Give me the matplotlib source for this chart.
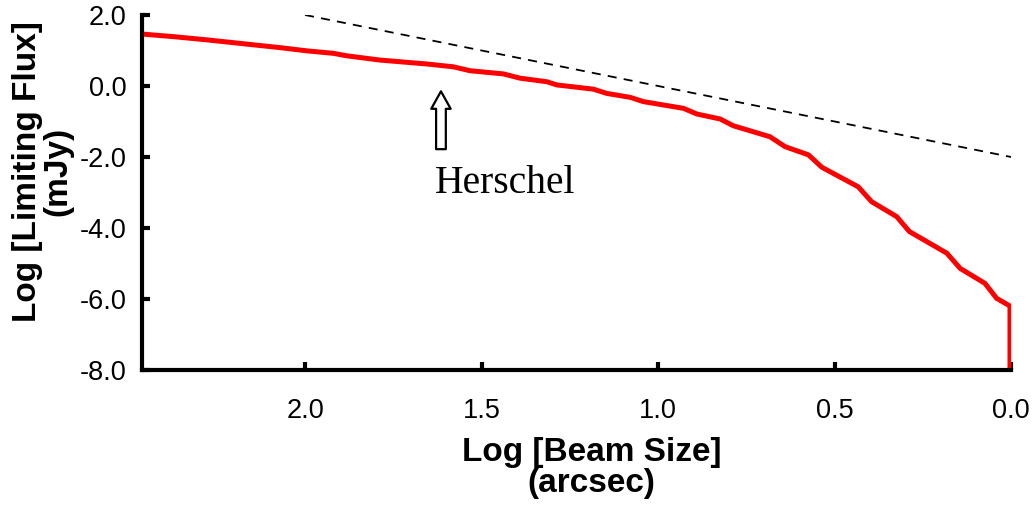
import matplotlib.pyplot as plt

# 红色曲线: log beam size vs log limiting flux
beam = [2.458, 2.373, 2.279, 2.184, 2.137, 2.071, 1.995, 1.920, 1.882, 1.788,
        1.655, 1.580, 1.533, 1.438, 1.391, 1.315, 1.287, 1.183, 1.145, 1.079,
        1.042, 0.928, 0.890, 0.824, 0.787, 0.683, 0.640, 0.574, 0.536, 0.433,
        0.395, 0.324, 0.288, 0.182, 0.144, 0.074, 0.041, 0.003, 0.003]
flux = [1.46, 1.39, 1.30, 1.20, 1.15, 1.08, 0.99, 0.92, 0.85, 0.73,
        0.62, 0.54, 0.43, 0.34, 0.22, 0.12, 0.03, -0.09, -0.21, -0.32,
        -0.44, -0.63, -0.79, -0.93, -1.12, -1.43, -1.71, -1.94, -2.29, -2.84,
        -3.26, -3.68, -4.10, -4.71, -5.14, -5.56, -5.98, -6.20, -8.0]

# 虚线
dash_x = [2.0, 0.0]
dash_y = [2.0, -2.0]

xticks = [2.0, 1.5, 1.0, 0.5, 0.0]
yticks = [2.0, 0.0, -2.0, -4.0, -6.0, -8.0]

fig = plt.figure(figsize=(10.34, 5.08), dpi=100)
ax = fig.add_axes([0.1373, 0.2717, 0.8405, 0.6988])

ax.plot(beam, flux, color='red', lw=3.6, solid_joinstyle='miter', zorder=3)
ax.plot(dash_x, dash_y, color='black', lw=1.3, ls=(0, (5, 4)))

# Herschel 箭头
ax.annotate('', xy=(1.615, -0.15), xytext=(1.615, -1.78),
            arrowprops=dict(arrowstyle='simple,head_width=1.0,head_length=0.9,tail_width=0.5',
                            mutation_scale=14, shrinkA=0, shrinkB=0,
                            fc='white', ec='black', lw=1.6))
ax.text(1.632, -3.01, 'Herschel', family='Liberation Serif', fontsize=28.5,
        ha='left', va='baseline')

ax.set_xlim(2.462, 0.0)
ax.set_ylim(-8.0, 2.0)
ax.set_xticks(xticks)
ax.set_xticklabels(['%.1f' % v for v in xticks])
ax.set_yticks(yticks)
ax.set_yticklabels(['%.1f' % v for v in yticks])

for s in ['top', 'right']:
    ax.spines[s].set_visible(False)
for s in ['left', 'bottom']:
    ax.spines[s].set_linewidth(3)
    ax.spines[s].set_zorder(4)

ax.tick_params(axis='both', direction='in', length=6, width=3,
               labelsize=19.5, labelfontfamily='Liberation Sans')
ax.tick_params(axis='x', pad=20)
ax.tick_params(axis='y', pad=11)

ax.set_xlabel('Log [Beam Size]\n(arcsec)', fontsize=24, fontweight='bold',
              family='Liberation Sans', linespacing=0.97)
ax.set_ylabel('Log [Limiting Flux]\n(mJy)', fontsize=24, fontweight='bold',
              family='Liberation Sans', linespacing=0.97)
ax.xaxis.set_label_coords(0.517, -0.19)
ax.yaxis.set_label_coords(-0.079, 0.558)

plt.savefig('out.png', dpi=100)
